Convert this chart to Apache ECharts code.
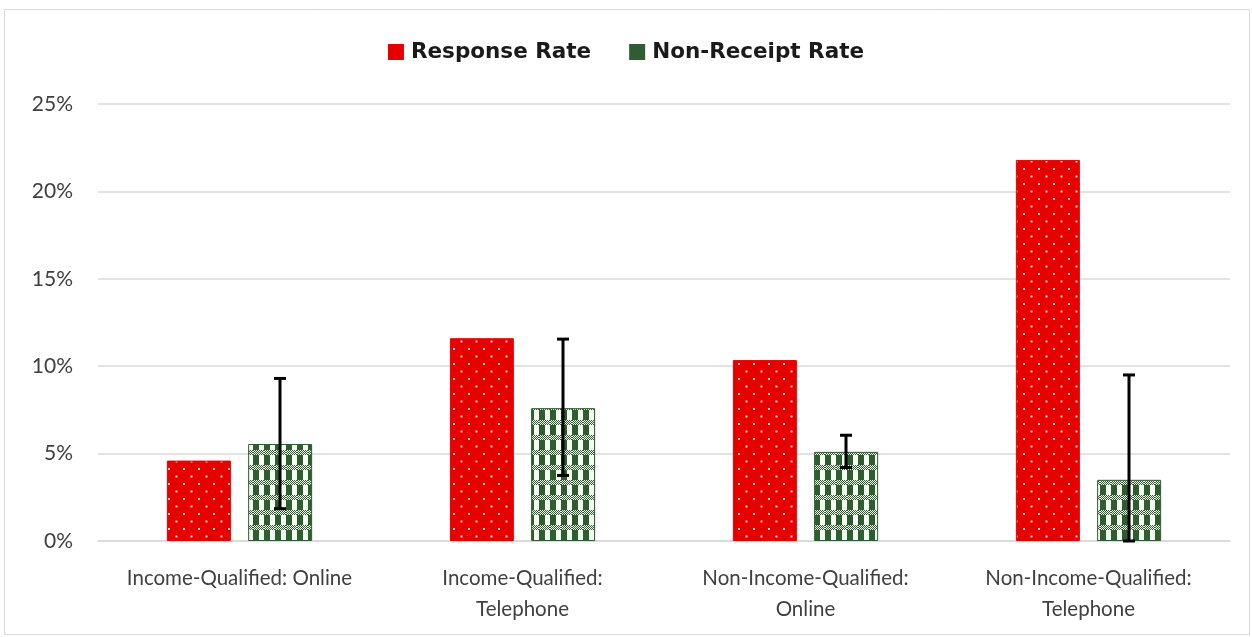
<!DOCTYPE html>
<html><head><meta charset="utf-8">
<script src="https://cdn.jsdelivr.net/npm/echarts@6/dist/echarts.min.js"></script>
<style>html,body{margin:0;padding:0;background:#fff}#c{width:1252px;height:637px}</style>
</head><body><div id="c"></div>
<script>
const categories = ['Income-Qualified: Online', 'Income-Qualified:\nTelephone', 'Non-Income-Qualified:\nOnline', 'Non-Income-Qualified:\nTelephone'];
const responseRate = [4.6, 11.6, 10.35, 21.8];
const nonReceiptRate = [5.55, 7.6, 5.1, 3.5];
const errorLow = [1.85, 3.75, 4.2, 0];
const errorHigh = [9.3, 11.55, 6.05, 9.5];
const yTicks = [0, 5, 10, 15, 20, 25];

const RED = '#e60000', GREEN = '#2f5d30', LIGHT = '#f4fbf1';
function dotPattern() {
  const c = document.createElement('canvas');
  c.width = 15; c.height = 15;
  const g = c.getContext('2d');
  g.fillStyle = RED; g.fillRect(0, 0, 15, 15);
  g.fillStyle = '#ffd0d0';
  g.fillRect(3, 3, 2, 2);
  g.fillRect(10.5, 10.5, 2, 2);
  return c;
}
function checkPattern() {
  const c = document.createElement('canvas');
  c.width = 11; c.height = 15;
  const g = c.getContext('2d');
  g.fillStyle = LIGHT; g.fillRect(0, 0, 11, 15);
  g.fillStyle = GREEN;
  g.fillRect(0, 0, 6, 15);
  for (let y = 0; y < 5; y++) for (let x = 0; x < 11; x++) {
    g.fillStyle = ((x + y) % 2 === 0) ? GREEN : LIGHT;
    g.fillRect(x, y, 1, 1);
  }
  return c;
}
const redFill = { image: dotPattern(), repeat: 'repeat' };
const greenFill = { image: checkPattern(), repeat: 'repeat' };

const chart = echarts.init(document.getElementById('c'));
const OFFSET = 40.5;
chart.setOption({
  animation: false,
  backgroundColor: '#fff',
  graphic: [{ type: 'rect', shape: { x: 4.5, y: 9.5, width: 1245, height: 625 }, style: { fill: 'none', stroke: '#d9d9d9', lineWidth: 1 }, silent: true }],
  legend: {
    top: 36, left: 'center', itemWidth: 14, itemHeight: 14, itemGap: 38,
    textStyle: { fontFamily: 'DejaVu Sans', fontWeight: 'bold', fontSize: 21.5, color: '#1a1a1a', padding: [0, 0, 0, 3] },
    data: [
      { name: 'Response Rate', icon: 'rect', itemStyle: { color: RED } },
      { name: 'Non-Receipt Rate', icon: 'rect', itemStyle: { color: GREEN } }
    ]
  },
  grid: { left: 98, right: 22, top: 104, bottom: 96 },
  xAxis: {
    type: 'category', data: categories,
    axisTick: { show: false },
    axisLine: { lineStyle: { color: '#d9d9d9', width: 1.5 } },
    axisLabel: { fontFamily: 'Lato', fontSize: 20.5, color: '#404040', lineHeight: 31, margin: 22, interval: 0 }
  },
  yAxis: {
    type: 'value', min: 0, max: 25, interval: 5,
    axisLabel: { formatter: v => yTicks.includes(v) ? v + '%' : '', fontFamily: 'Lato', fontSize: 21, color: '#404040', margin: 25 },
    splitLine: { lineStyle: { color: '#d9d9d9', width: 1.5 } },
    axisLine: { show: false }, axisTick: { show: false }
  },
  series: [
    { name: 'Response Rate', type: 'bar', data: responseRate, barWidth: 64, barGap: '27%',
      itemStyle: { color: redFill, borderColor: RED, borderWidth: 1 } },
    { name: 'Non-Receipt Rate', type: 'bar', data: nonReceiptRate, barWidth: 64,
      itemStyle: { color: greenFill, borderColor: GREEN, borderWidth: 1 } },
    { name: 'err', type: 'custom', z: 10,
      data: categories.map((c, i) => [i, errorLow[i], errorHigh[i]]),
      renderItem: function (params, api) {
        const lo = api.coord([api.value(0), api.value(1)]);
        const hi = api.coord([api.value(0), api.value(2)]);
        const x = lo[0] + OFFSET;
        const cap = 6;
        const st = { stroke: '#000', lineWidth: 3 };
        return { type: 'group', children: [
          { type: 'line', shape: { x1: x, y1: lo[1], x2: x, y2: hi[1] }, style: st },
          { type: 'line', shape: { x1: x - cap, y1: hi[1], x2: x + cap, y2: hi[1] }, style: st },
          { type: 'line', shape: { x1: x - cap, y1: lo[1], x2: x + cap, y2: lo[1] }, style: st }
        ] };
      }
    }
  ]
});
</script></body></html>
